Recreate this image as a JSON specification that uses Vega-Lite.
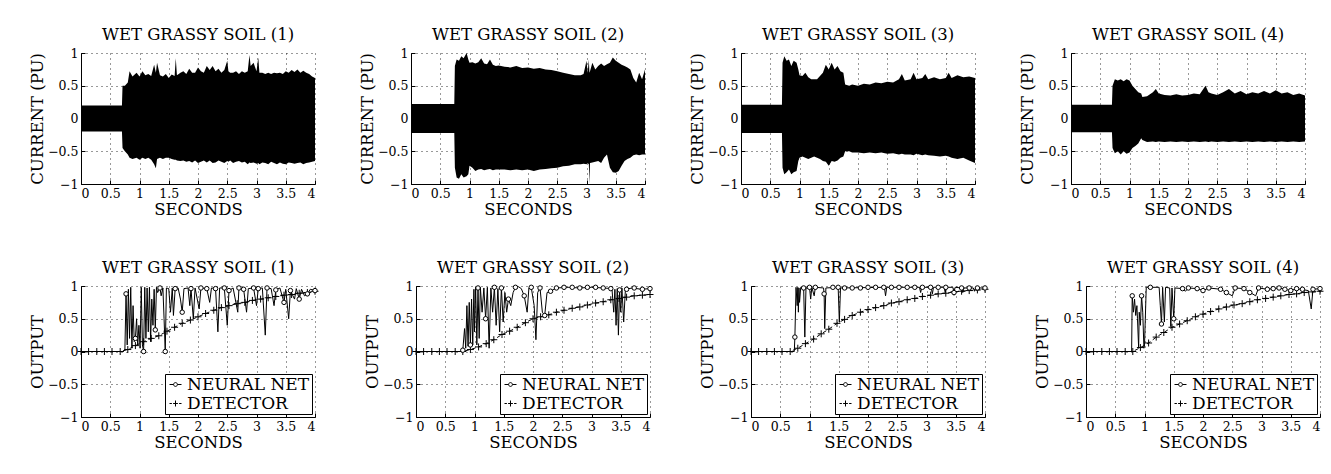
{
"$schema":"https://vega.github.io/schema/vega-lite/v6.json",
"padding":{"left":29,"top":26,"right":0,"bottom":0},
"background":"white",
"spacing":41,
"resolve":{"scale":{"shape":"independent"},"legend":{"shape":"independent"}},
"config":{
"font":"DejaVu Serif",
"view":{"stroke":null},
"style":{"guide-label":{"font":"DejaVu Serif","fill":"black"},"guide-title":{"font":"DejaVu Serif","fill":"black"}},
"axis":{"labelFont":"DejaVu Serif","titleFont":"DejaVu Serif","labelFontSize":12.5,"titleFontSize":16.5,"titleFontWeight":"normal","labelColor":"black","titleColor":"black","domainColor":"black","domainWidth":1,"tickColor":"black","tickSize":-4,"labelPadding":7,"titlePadding":2,"grid":true,"gridColor":"black","gridDash":[1,4],"gridOpacity":0.8,"gridWidth":1},
"title":{"font":"DejaVu Serif","fontSize":16.5,"fontWeight":"normal","color":"black","offset":4},
"legend":{"labelFont":"DejaVu Serif","labelFontSize":17,"labelColor":"black"}
},
"datasets":{
"cur":[
{"panel":1,"t":0,"hi":0.2,"lo":-0.2},{"panel":1,"t":0.7,"hi":0.2,"lo":-0.2},{"panel":1,"t":0.71,"hi":0.5,"lo":-0.45},{"panel":1,"t":0.75,"hi":0.5,"lo":-0.5},{"panel":1,"t":0.8,"hi":0.55,"lo":-0.55},{"panel":1,"t":0.83,"hi":0.72,"lo":-0.6},{"panel":1,"t":0.88,"hi":0.64,"lo":-0.62},{"panel":1,"t":0.95,"hi":0.7,"lo":-0.6},{"panel":1,"t":1.0,"hi":0.64,"lo":-0.63},{"panel":1,"t":1.05,"hi":0.72,"lo":-0.6},{"panel":1,"t":1.1,"hi":0.66,"lo":-0.62},{"panel":1,"t":1.15,"hi":0.68,"lo":-0.6},{"panel":1,"t":1.2,"hi":0.65,"lo":-0.63},{"panel":1,"t":1.25,"hi":0.82,"lo":-0.7},{"panel":1,"t":1.28,"hi":0.7,"lo":-0.76},{"panel":1,"t":1.3,"hi":0.85,"lo":-0.62},{"panel":1,"t":1.35,"hi":0.66,"lo":-0.6},{"panel":1,"t":1.4,"hi":0.64,"lo":-0.62},{"panel":1,"t":1.45,"hi":0.68,"lo":-0.6},{"panel":1,"t":1.5,"hi":0.62,"lo":-0.6},{"panel":1,"t":1.55,"hi":0.67,"lo":-0.62},{"panel":1,"t":1.6,"hi":0.65,"lo":-0.63},{"panel":1,"t":1.62,"hi":0.92,"lo":-0.63},{"panel":1,"t":1.64,"hi":0.66,"lo":-0.64},{"panel":1,"t":1.7,"hi":0.7,"lo":-0.65},{"panel":1,"t":1.75,"hi":0.72,"lo":-0.64},{"panel":1,"t":1.8,"hi":0.68,"lo":-0.66},{"panel":1,"t":1.85,"hi":0.76,"lo":-0.65},{"panel":1,"t":1.9,"hi":0.7,"lo":-0.67},{"panel":1,"t":1.95,"hi":0.7,"lo":-0.64},{"panel":1,"t":2.0,"hi":0.78,"lo":-0.68},{"panel":1,"t":2.05,"hi":0.72,"lo":-0.66},{"panel":1,"t":2.1,"hi":0.7,"lo":-0.64},{"panel":1,"t":2.15,"hi":0.8,"lo":-0.67},{"panel":1,"t":2.2,"hi":0.74,"lo":-0.64},{"panel":1,"t":2.25,"hi":0.8,"lo":-0.68},{"panel":1,"t":2.3,"hi":0.72,"lo":-0.67},{"panel":1,"t":2.35,"hi":0.76,"lo":-0.64},{"panel":1,"t":2.4,"hi":0.7,"lo":-0.66},{"panel":1,"t":2.45,"hi":0.74,"lo":-0.68},{"panel":1,"t":2.5,"hi":0.88,"lo":-0.65},{"panel":1,"t":2.52,"hi":0.72,"lo":-0.66},{"panel":1,"t":2.55,"hi":0.7,"lo":-0.64},{"panel":1,"t":2.6,"hi":0.7,"lo":-0.68},{"panel":1,"t":2.65,"hi":0.72,"lo":-0.66},{"panel":1,"t":2.7,"hi":0.68,"lo":-0.65},{"panel":1,"t":2.75,"hi":0.72,"lo":-0.67},{"panel":1,"t":2.8,"hi":0.7,"lo":-0.66},{"panel":1,"t":2.85,"hi":0.72,"lo":-0.7},{"panel":1,"t":2.88,"hi":0.97,"lo":-0.67},{"panel":1,"t":2.9,"hi":0.8,"lo":-0.68},{"panel":1,"t":2.95,"hi":0.85,"lo":-0.67},{"panel":1,"t":3.0,"hi":0.72,"lo":-0.69},{"panel":1,"t":3.03,"hi":0.93,"lo":-0.68},{"panel":1,"t":3.05,"hi":0.7,"lo":-0.7},{"panel":1,"t":3.1,"hi":0.7,"lo":-0.67},{"panel":1,"t":3.15,"hi":0.68,"lo":-0.68},{"panel":1,"t":3.2,"hi":0.7,"lo":-0.7},{"panel":1,"t":3.25,"hi":0.68,"lo":-0.66},{"panel":1,"t":3.3,"hi":0.7,"lo":-0.68},{"panel":1,"t":3.35,"hi":0.69,"lo":-0.7},{"panel":1,"t":3.4,"hi":0.7,"lo":-0.67},{"panel":1,"t":3.45,"hi":0.68,"lo":-0.69},{"panel":1,"t":3.5,"hi":0.72,"lo":-0.7},{"panel":1,"t":3.55,"hi":0.7,"lo":-0.67},{"panel":1,"t":3.6,"hi":0.74,"lo":-0.68},{"panel":1,"t":3.65,"hi":0.71,"lo":-0.69},{"panel":1,"t":3.7,"hi":0.75,"lo":-0.68},{"panel":1,"t":3.75,"hi":0.7,"lo":-0.67},{"panel":1,"t":3.8,"hi":0.73,"lo":-0.7},{"panel":1,"t":3.85,"hi":0.7,"lo":-0.68},{"panel":1,"t":3.9,"hi":0.68,"lo":-0.67},{"panel":1,"t":3.95,"hi":0.64,"lo":-0.66},{"panel":1,"t":4.0,"hi":0.62,"lo":-0.65},
{"panel":2,"t":0,"hi":0.22,"lo":-0.22},{"panel":2,"t":0.74,"hi":0.22,"lo":-0.22},{"panel":2,"t":0.75,"hi":0.8,"lo":-0.75},{"panel":2,"t":0.78,"hi":0.9,"lo":-0.9},{"panel":2,"t":0.82,"hi":0.88,"lo":-0.92},{"panel":2,"t":0.86,"hi":0.95,"lo":-0.85},{"panel":2,"t":0.9,"hi":0.92,"lo":-0.9},{"panel":2,"t":0.95,"hi":1.0,"lo":-0.88},{"panel":2,"t":0.98,"hi":0.9,"lo":-0.85},{"panel":2,"t":1.0,"hi":0.85,"lo":-0.72},{"panel":2,"t":1.05,"hi":0.86,"lo":-0.75},{"panel":2,"t":1.1,"hi":0.84,"lo":-0.8},{"panel":2,"t":1.15,"hi":0.86,"lo":-0.78},{"panel":2,"t":1.2,"hi":0.92,"lo":-0.77},{"panel":2,"t":1.25,"hi":0.84,"lo":-0.79},{"panel":2,"t":1.3,"hi":0.83,"lo":-0.78},{"panel":2,"t":1.35,"hi":0.9,"lo":-0.77},{"panel":2,"t":1.4,"hi":0.82,"lo":-0.79},{"panel":2,"t":1.45,"hi":0.8,"lo":-0.78},{"panel":2,"t":1.5,"hi":0.81,"lo":-0.78},{"panel":2,"t":1.6,"hi":0.79,"lo":-0.78},{"panel":2,"t":1.7,"hi":0.78,"lo":-0.79},{"panel":2,"t":1.8,"hi":0.8,"lo":-0.78},{"panel":2,"t":1.9,"hi":0.77,"lo":-0.79},{"panel":2,"t":2.0,"hi":0.78,"lo":-0.78},{"panel":2,"t":2.1,"hi":0.76,"lo":-0.8},{"panel":2,"t":2.2,"hi":0.77,"lo":-0.78},{"panel":2,"t":2.3,"hi":0.75,"lo":-0.77},{"panel":2,"t":2.4,"hi":0.74,"lo":-0.76},{"panel":2,"t":2.5,"hi":0.72,"lo":-0.75},{"panel":2,"t":2.6,"hi":0.7,"lo":-0.73},{"panel":2,"t":2.7,"hi":0.68,"lo":-0.72},{"panel":2,"t":2.8,"hi":0.66,"lo":-0.7},{"panel":2,"t":2.9,"hi":0.66,"lo":-0.7},{"panel":2,"t":2.95,"hi":0.68,"lo":-0.69},{"panel":2,"t":3.0,"hi":0.88,"lo":-0.7},{"panel":2,"t":3.02,"hi":0.7,"lo":-0.68},{"panel":2,"t":3.04,"hi":0.9,"lo":-0.7},{"panel":2,"t":3.05,"hi":0.7,"lo":-1.0},{"panel":2,"t":3.06,"hi":0.72,"lo":-0.68},{"panel":2,"t":3.1,"hi":0.85,"lo":-0.67},{"panel":2,"t":3.15,"hi":0.75,"lo":-0.66},{"panel":2,"t":3.2,"hi":0.8,"lo":-0.65},{"panel":2,"t":3.25,"hi":0.84,"lo":-0.68},{"panel":2,"t":3.3,"hi":0.8,"lo":-0.6},{"panel":2,"t":3.35,"hi":0.83,"lo":-0.55},{"panel":2,"t":3.4,"hi":0.85,"lo":-0.75},{"panel":2,"t":3.45,"hi":0.93,"lo":-0.82},{"panel":2,"t":3.5,"hi":0.88,"lo":-0.83},{"panel":2,"t":3.55,"hi":0.85,"lo":-0.8},{"panel":2,"t":3.6,"hi":0.82,"lo":-0.72},{"panel":2,"t":3.65,"hi":0.8,"lo":-0.65},{"panel":2,"t":3.7,"hi":0.78,"lo":-0.62},{"panel":2,"t":3.75,"hi":0.75,"lo":-0.6},{"panel":2,"t":3.8,"hi":0.62,"lo":-0.56},{"panel":2,"t":3.85,"hi":0.55,"lo":-0.55},{"panel":2,"t":3.9,"hi":0.7,"lo":-0.56},{"panel":2,"t":3.95,"hi":0.6,"lo":-0.55},{"panel":2,"t":4.0,"hi":0.75,"lo":-0.55},
{"panel":3,"t":0,"hi":0.21,"lo":-0.22},{"panel":3,"t":0.7,"hi":0.21,"lo":-0.22},{"panel":3,"t":0.71,"hi":0.85,"lo":-0.75},{"panel":3,"t":0.74,"hi":0.95,"lo":-0.85},{"panel":3,"t":0.78,"hi":0.88,"lo":-0.82},{"panel":3,"t":0.82,"hi":0.9,"lo":-0.78},{"panel":3,"t":0.86,"hi":0.8,"lo":-0.85},{"panel":3,"t":0.9,"hi":0.88,"lo":-0.82},{"panel":3,"t":0.95,"hi":0.85,"lo":-0.8},{"panel":3,"t":0.98,"hi":0.75,"lo":-0.65},{"panel":3,"t":1.0,"hi":0.66,"lo":-0.6},{"panel":3,"t":1.05,"hi":0.65,"lo":-0.58},{"panel":3,"t":1.1,"hi":0.7,"lo":-0.6},{"panel":3,"t":1.15,"hi":0.63,"lo":-0.62},{"panel":3,"t":1.2,"hi":0.6,"lo":-0.6},{"panel":3,"t":1.25,"hi":0.6,"lo":-0.58},{"panel":3,"t":1.3,"hi":0.6,"lo":-0.6},{"panel":3,"t":1.35,"hi":0.65,"lo":-0.62},{"panel":3,"t":1.4,"hi":0.7,"lo":-0.65},{"panel":3,"t":1.45,"hi":0.82,"lo":-0.66},{"panel":3,"t":1.5,"hi":0.75,"lo":-0.72},{"panel":3,"t":1.55,"hi":0.85,"lo":-0.65},{"panel":3,"t":1.6,"hi":0.75,"lo":-0.66},{"panel":3,"t":1.65,"hi":0.8,"lo":-0.64},{"panel":3,"t":1.7,"hi":0.72,"lo":-0.6},{"panel":3,"t":1.75,"hi":0.7,"lo":-0.58},{"panel":3,"t":1.78,"hi":0.52,"lo":-0.5},{"panel":3,"t":1.85,"hi":0.5,"lo":-0.5},{"panel":3,"t":1.9,"hi":0.52,"lo":-0.52},{"panel":3,"t":2.0,"hi":0.5,"lo":-0.52},{"panel":3,"t":2.1,"hi":0.53,"lo":-0.53},{"panel":3,"t":2.2,"hi":0.52,"lo":-0.52},{"panel":3,"t":2.3,"hi":0.55,"lo":-0.53},{"panel":3,"t":2.4,"hi":0.54,"lo":-0.52},{"panel":3,"t":2.5,"hi":0.56,"lo":-0.54},{"panel":3,"t":2.6,"hi":0.55,"lo":-0.53},{"panel":3,"t":2.7,"hi":0.6,"lo":-0.55},{"panel":3,"t":2.75,"hi":0.68,"lo":-0.54},{"panel":3,"t":2.8,"hi":0.58,"lo":-0.55},{"panel":3,"t":2.9,"hi":0.6,"lo":-0.55},{"panel":3,"t":2.95,"hi":0.7,"lo":-0.56},{"panel":3,"t":3.0,"hi":0.6,"lo":-0.54},{"panel":3,"t":3.1,"hi":0.62,"lo":-0.56},{"panel":3,"t":3.15,"hi":0.68,"lo":-0.55},{"panel":3,"t":3.2,"hi":0.6,"lo":-0.56},{"panel":3,"t":3.3,"hi":0.63,"lo":-0.57},{"panel":3,"t":3.4,"hi":0.6,"lo":-0.58},{"panel":3,"t":3.5,"hi":0.62,"lo":-0.57},{"panel":3,"t":3.55,"hi":0.7,"lo":-0.58},{"panel":3,"t":3.6,"hi":0.62,"lo":-0.6},{"panel":3,"t":3.7,"hi":0.66,"lo":-0.62},{"panel":3,"t":3.8,"hi":0.63,"lo":-0.6},{"panel":3,"t":3.9,"hi":0.64,"lo":-0.64},{"panel":3,"t":4.0,"hi":0.62,"lo":-0.68},
{"panel":4,"t":0,"hi":0.21,"lo":-0.21},{"panel":4,"t":0.7,"hi":0.21,"lo":-0.21},{"panel":4,"t":0.71,"hi":0.5,"lo":-0.45},{"panel":4,"t":0.75,"hi":0.6,"lo":-0.53},{"panel":4,"t":0.8,"hi":0.58,"lo":-0.5},{"panel":4,"t":0.85,"hi":0.6,"lo":-0.55},{"panel":4,"t":0.9,"hi":0.57,"lo":-0.5},{"panel":4,"t":0.95,"hi":0.6,"lo":-0.54},{"panel":4,"t":1.0,"hi":0.58,"lo":-0.52},{"panel":4,"t":1.05,"hi":0.5,"lo":-0.45},{"panel":4,"t":1.1,"hi":0.45,"lo":-0.42},{"panel":4,"t":1.15,"hi":0.4,"lo":-0.38},{"panel":4,"t":1.2,"hi":0.38,"lo":-0.3},{"panel":4,"t":1.22,"hi":0.33,"lo":-0.33},{"panel":4,"t":1.3,"hi":0.34,"lo":-0.36},{"panel":4,"t":1.4,"hi":0.4,"lo":-0.35},{"panel":4,"t":1.45,"hi":0.45,"lo":-0.36},{"panel":4,"t":1.5,"hi":0.38,"lo":-0.35},{"panel":4,"t":1.6,"hi":0.36,"lo":-0.36},{"panel":4,"t":1.7,"hi":0.35,"lo":-0.35},{"panel":4,"t":1.8,"hi":0.37,"lo":-0.36},{"panel":4,"t":1.9,"hi":0.35,"lo":-0.35},{"panel":4,"t":2.0,"hi":0.36,"lo":-0.36},{"panel":4,"t":2.1,"hi":0.38,"lo":-0.35},{"panel":4,"t":2.2,"hi":0.37,"lo":-0.36},{"panel":4,"t":2.3,"hi":0.5,"lo":-0.35},{"panel":4,"t":2.35,"hi":0.4,"lo":-0.36},{"panel":4,"t":2.4,"hi":0.38,"lo":-0.35},{"panel":4,"t":2.5,"hi":0.36,"lo":-0.36},{"panel":4,"t":2.6,"hi":0.4,"lo":-0.35},{"panel":4,"t":2.7,"hi":0.45,"lo":-0.36},{"panel":4,"t":2.8,"hi":0.38,"lo":-0.35},{"panel":4,"t":2.9,"hi":0.42,"lo":-0.36},{"panel":4,"t":3.0,"hi":0.37,"lo":-0.35},{"panel":4,"t":3.1,"hi":0.4,"lo":-0.36},{"panel":4,"t":3.2,"hi":0.38,"lo":-0.35},{"panel":4,"t":3.3,"hi":0.42,"lo":-0.36},{"panel":4,"t":3.4,"hi":0.38,"lo":-0.35},{"panel":4,"t":3.5,"hi":0.43,"lo":-0.36},{"panel":4,"t":3.6,"hi":0.38,"lo":-0.35},{"panel":4,"t":3.7,"hi":0.4,"lo":-0.36},{"panel":4,"t":3.8,"hi":0.36,"lo":-0.35},{"panel":4,"t":3.9,"hi":0.38,"lo":-0.36},{"panel":4,"t":4.0,"hi":0.35,"lo":-0.35}
],
"nn":[
{"panel":1,"t":0,"v":0},{"panel":1,"t":0.72,"v":0},{"panel":1,"t":0.75,"v":0.02},{"panel":1,"t":0.77,"v":0.88},{"panel":1,"t":0.79,"v":0.1},{"panel":1,"t":0.81,"v":0.95},{"panel":1,"t":0.83,"v":0.2},{"panel":1,"t":0.85,"v":0.98},{"panel":1,"t":0.87,"v":0.05},{"panel":1,"t":0.89,"v":0.7},{"panel":1,"t":0.91,"v":0.15},{"panel":1,"t":0.93,"v":0.2},{"panel":1,"t":0.95,"v":0.5},{"panel":1,"t":0.97,"v":0.1},{"panel":1,"t":0.99,"v":0.4},{"panel":1,"t":1.01,"v":0.05},{"panel":1,"t":1.03,"v":0.98},{"panel":1,"t":1.05,"v":0.1},{"panel":1,"t":1.07,"v":0.0},{"panel":1,"t":1.09,"v":0.98},{"panel":1,"t":1.11,"v":0.2},{"panel":1,"t":1.13,"v":0.97},{"panel":1,"t":1.15,"v":0.3},{"panel":1,"t":1.17,"v":0.98},{"panel":1,"t":1.19,"v":0.15},{"panel":1,"t":1.21,"v":0.8},{"panel":1,"t":1.23,"v":0.4},{"panel":1,"t":1.25,"v":0.95},{"panel":1,"t":1.27,"v":0.33},{"panel":1,"t":1.29,"v":0.98},{"panel":1,"t":1.31,"v":0.9},{"panel":1,"t":1.35,"v":0.97},{"panel":1,"t":1.37,"v":0.85},{"panel":1,"t":1.4,"v":0.97},{"panel":1,"t":1.42,"v":0.5},{"panel":1,"t":1.44,"v":0.0},{"panel":1,"t":1.46,"v":0.97},{"panel":1,"t":1.5,"v":0.96},{"panel":1,"t":1.53,"v":0.6},{"panel":1,"t":1.56,"v":0.97},{"panel":1,"t":1.58,"v":0.55},{"panel":1,"t":1.61,"v":0.96},{"panel":1,"t":1.66,"v":0.97},{"panel":1,"t":1.7,"v":0.8},{"panel":1,"t":1.73,"v":0.6},{"panel":1,"t":1.76,"v":0.96},{"panel":1,"t":1.83,"v":0.97},{"panel":1,"t":1.86,"v":0.7},{"panel":1,"t":1.88,"v":0.96},{"panel":1,"t":1.92,"v":0.5},{"panel":1,"t":1.95,"v":0.97},{"panel":1,"t":2.02,"v":0.65},{"panel":1,"t":2.05,"v":0.97},{"panel":1,"t":2.15,"v":0.96},{"panel":1,"t":2.2,"v":0.75},{"panel":1,"t":2.23,"v":0.97},{"panel":1,"t":2.3,"v":0.96},{"panel":1,"t":2.34,"v":0.3},{"panel":1,"t":2.37,"v":0.97},{"panel":1,"t":2.45,"v":0.97},{"panel":1,"t":2.5,"v":0.4},{"panel":1,"t":2.53,"v":0.93},{"panel":1,"t":2.6,"v":0.97},{"panel":1,"t":2.68,"v":0.6},{"panel":1,"t":2.7,"v":0.97},{"panel":1,"t":2.78,"v":0.95},{"panel":1,"t":2.83,"v":0.6},{"panel":1,"t":2.86,"v":0.96},{"panel":1,"t":2.95,"v":0.97},{"panel":1,"t":3.0,"v":0.7},{"panel":1,"t":3.03,"v":0.96},{"panel":1,"t":3.1,"v":0.97},{"panel":1,"t":3.15,"v":0.25},{"panel":1,"t":3.18,"v":0.97},{"panel":1,"t":3.25,"v":0.96},{"panel":1,"t":3.3,"v":0.7},{"panel":1,"t":3.33,"v":0.94},{"panel":1,"t":3.4,"v":0.97},{"panel":1,"t":3.47,"v":0.75},{"panel":1,"t":3.5,"v":0.95},{"panel":1,"t":3.55,"v":0.5},{"panel":1,"t":3.58,"v":0.93},{"panel":1,"t":3.65,"v":0.8},{"panel":1,"t":3.68,"v":0.96},{"panel":1,"t":3.73,"v":0.8},{"panel":1,"t":3.77,"v":0.95},{"panel":1,"t":3.82,"v":0.85},{"panel":1,"t":3.87,"v":0.88},{"panel":1,"t":3.92,"v":0.95},{"panel":1,"t":4.0,"v":0.93},
{"panel":2,"t":0,"v":0},{"panel":2,"t":0.75,"v":0},{"panel":2,"t":0.8,"v":0.02},{"panel":2,"t":0.83,"v":0.35},{"panel":2,"t":0.85,"v":0.05},{"panel":2,"t":0.87,"v":0.7},{"panel":2,"t":0.89,"v":0.08},{"panel":2,"t":0.91,"v":0.75},{"panel":2,"t":0.93,"v":0.1},{"panel":2,"t":0.95,"v":0.8},{"panel":2,"t":0.97,"v":0.1},{"panel":2,"t":0.99,"v":0.95},{"panel":2,"t":1.0,"v":0.3},{"panel":2,"t":1.02,"v":0.98},{"panel":2,"t":1.04,"v":0.1},{"panel":2,"t":1.06,"v":0.97},{"panel":2,"t":1.08,"v":0.2},{"panel":2,"t":1.1,"v":0.98},{"panel":2,"t":1.13,"v":0.6},{"panel":2,"t":1.16,"v":0.97},{"panel":2,"t":1.19,"v":0.5},{"panel":2,"t":1.22,"v":0.98},{"panel":2,"t":1.25,"v":0.05},{"panel":2,"t":1.28,"v":0.97},{"panel":2,"t":1.31,"v":0.6},{"panel":2,"t":1.34,"v":0.98},{"panel":2,"t":1.37,"v":0.4},{"panel":2,"t":1.4,"v":0.96},{"panel":2,"t":1.43,"v":0.3},{"panel":2,"t":1.46,"v":0.97},{"panel":2,"t":1.49,"v":0.45},{"panel":2,"t":1.52,"v":0.9},{"panel":2,"t":1.55,"v":0.6},{"panel":2,"t":1.58,"v":0.8},{"panel":2,"t":1.62,"v":0.7},{"panel":2,"t":1.66,"v":0.9},{"panel":2,"t":1.7,"v":0.98},{"panel":2,"t":1.75,"v":0.99},{"panel":2,"t":1.8,"v":0.96},{"panel":2,"t":1.85,"v":0.85},{"panel":2,"t":1.9,"v":0.6},{"panel":2,"t":1.93,"v":0.97},{"panel":2,"t":1.97,"v":0.98},{"panel":2,"t":2.02,"v":0.7},{"panel":2,"t":2.05,"v":0.18},{"panel":2,"t":2.08,"v":0.9},{"panel":2,"t":2.12,"v":0.97},{"panel":2,"t":2.16,"v":0.6},{"panel":2,"t":2.2,"v":0.55},{"panel":2,"t":2.24,"v":0.9},{"panel":2,"t":2.3,"v":0.92},{"panel":2,"t":2.4,"v":0.97},{"panel":2,"t":2.6,"v":0.98},{"panel":2,"t":2.8,"v":0.97},{"panel":2,"t":3.0,"v":0.98},{"panel":2,"t":3.2,"v":0.97},{"panel":2,"t":3.35,"v":0.96},{"panel":2,"t":3.38,"v":0.6},{"panel":2,"t":3.4,"v":0.95},{"panel":2,"t":3.42,"v":0.4},{"panel":2,"t":3.44,"v":0.96},{"panel":2,"t":3.46,"v":0.25},{"panel":2,"t":3.48,"v":0.94},{"panel":2,"t":3.5,"v":0.6},{"panel":2,"t":3.52,"v":0.97},{"panel":2,"t":3.55,"v":0.45},{"panel":2,"t":3.58,"v":0.95},{"panel":2,"t":3.7,"v":0.97},{"panel":2,"t":3.85,"v":0.95},{"panel":2,"t":4.0,"v":0.96},
{"panel":3,"t":0,"v":0},{"panel":3,"t":0.74,"v":0},{"panel":3,"t":0.75,"v":0.22},{"panel":3,"t":0.77,"v":0.98},{"panel":3,"t":0.79,"v":0.7},{"panel":3,"t":0.8,"v":0.98},{"panel":3,"t":0.81,"v":0.6},{"panel":3,"t":0.82,"v":0.97},{"panel":3,"t":0.83,"v":0.75},{"panel":3,"t":0.85,"v":0.98},{"panel":3,"t":0.9,"v":0.97},{"panel":3,"t":0.92,"v":0.22},{"panel":3,"t":0.94,"v":0.97},{"panel":3,"t":1.0,"v":0.98},{"panel":3,"t":1.02,"v":0.8},{"panel":3,"t":1.04,"v":0.98},{"panel":3,"t":1.08,"v":0.85},{"panel":3,"t":1.1,"v":0.98},{"panel":3,"t":1.24,"v":0.97},{"panel":3,"t":1.25,"v":0.88},{"panel":3,"t":1.26,"v":0.35},{"panel":3,"t":1.28,"v":0.97},{"panel":3,"t":1.49,"v":0.98},{"panel":3,"t":1.51,"v":0.45},{"panel":3,"t":1.53,"v":0.97},{"panel":3,"t":2.28,"v":0.98},{"panel":3,"t":2.3,"v":0.85},{"panel":3,"t":2.32,"v":0.98},{"panel":3,"t":2.88,"v":0.98},{"panel":3,"t":2.9,"v":0.9},{"panel":3,"t":2.92,"v":0.98},{"panel":3,"t":3.08,"v":0.98},{"panel":3,"t":3.1,"v":0.88},{"panel":3,"t":3.12,"v":0.98},{"panel":3,"t":3.3,"v":0.98},{"panel":3,"t":3.32,"v":0.9},{"panel":3,"t":3.34,"v":0.98},{"panel":3,"t":3.45,"v":0.98},{"panel":3,"t":3.47,"v":0.9},{"panel":3,"t":3.49,"v":0.98},{"panel":3,"t":3.6,"v":0.97},{"panel":3,"t":3.62,"v":0.9},{"panel":3,"t":3.64,"v":0.97},{"panel":3,"t":3.8,"v":0.97},{"panel":3,"t":3.82,"v":0.92},{"panel":3,"t":3.84,"v":0.97},{"panel":3,"t":4.0,"v":0.97},
{"panel":4,"t":0,"v":0},{"panel":4,"t":0.78,"v":0},{"panel":4,"t":0.79,"v":0.85},{"panel":4,"t":0.81,"v":0.6},{"panel":4,"t":0.83,"v":0.8},{"panel":4,"t":0.85,"v":0.55},{"panel":4,"t":0.87,"v":0.7},{"panel":4,"t":0.88,"v":0.5},{"panel":4,"t":0.9,"v":0.05},{"panel":4,"t":0.91,"v":0.6},{"panel":4,"t":0.93,"v":0.4},{"panel":4,"t":0.95,"v":0.85},{"panel":4,"t":0.97,"v":0.6},{"panel":4,"t":0.99,"v":0.05},{"panel":4,"t":1.0,"v":0.1},{"panel":4,"t":1.03,"v":0.98},{"panel":4,"t":1.25,"v":0.98},{"panel":4,"t":1.27,"v":0.7},{"panel":4,"t":1.29,"v":0.42},{"panel":4,"t":1.31,"v":0.98},{"panel":4,"t":1.34,"v":0.45},{"panel":4,"t":1.36,"v":0.98},{"panel":4,"t":1.43,"v":0.97},{"panel":4,"t":1.45,"v":0.38},{"panel":4,"t":1.47,"v":0.97},{"panel":4,"t":1.5,"v":0.5},{"panel":4,"t":1.52,"v":0.97},{"panel":4,"t":1.65,"v":0.96},{"panel":4,"t":1.7,"v":0.92},{"panel":4,"t":1.75,"v":0.97},{"panel":4,"t":1.9,"v":0.96},{"panel":4,"t":2.0,"v":0.93},{"panel":4,"t":2.1,"v":0.97},{"panel":4,"t":2.3,"v":0.95},{"panel":4,"t":2.5,"v":0.85},{"panel":4,"t":2.55,"v":0.97},{"panel":4,"t":2.7,"v":0.96},{"panel":4,"t":2.9,"v":0.85},{"panel":4,"t":2.95,"v":0.97},{"panel":4,"t":3.1,"v":0.95},{"panel":4,"t":3.3,"v":0.97},{"panel":4,"t":3.5,"v":0.93},{"panel":4,"t":3.6,"v":0.96},{"panel":4,"t":3.8,"v":0.93},{"panel":4,"t":3.85,"v":0.65},{"panel":4,"t":3.88,"v":0.95},{"panel":4,"t":4.0,"v":0.96}
],
"mk":[
{"panel":1,"series":"DETECTOR","t":0,"v":0},{"panel":1,"series":"DETECTOR","t":0.13,"v":0},{"panel":1,"series":"DETECTOR","t":0.27,"v":0},{"panel":1,"series":"DETECTOR","t":0.4,"v":0},{"panel":1,"series":"DETECTOR","t":0.53,"v":0},{"panel":1,"series":"DETECTOR","t":0.67,"v":0},{"panel":1,"series":"DETECTOR","t":0.8,"v":0.03},{"panel":1,"series":"DETECTOR","t":0.93,"v":0.09},{"panel":1,"series":"DETECTOR","t":1.07,"v":0.15},{"panel":1,"series":"DETECTOR","t":1.2,"v":0.2},{"panel":1,"series":"DETECTOR","t":1.33,"v":0.24},{"panel":1,"series":"DETECTOR","t":1.47,"v":0.31},{"panel":1,"series":"DETECTOR","t":1.6,"v":0.37},{"panel":1,"series":"DETECTOR","t":1.73,"v":0.43},{"panel":1,"series":"DETECTOR","t":1.87,"v":0.48},{"panel":1,"series":"DETECTOR","t":2.0,"v":0.53},{"panel":1,"series":"DETECTOR","t":2.13,"v":0.58},{"panel":1,"series":"DETECTOR","t":2.27,"v":0.63},{"panel":1,"series":"DETECTOR","t":2.4,"v":0.67},{"panel":1,"series":"DETECTOR","t":2.53,"v":0.7},{"panel":1,"series":"DETECTOR","t":2.67,"v":0.73},{"panel":1,"series":"DETECTOR","t":2.8,"v":0.75},{"panel":1,"series":"DETECTOR","t":2.93,"v":0.78},{"panel":1,"series":"DETECTOR","t":3.07,"v":0.8},{"panel":1,"series":"DETECTOR","t":3.2,"v":0.82},{"panel":1,"series":"DETECTOR","t":3.33,"v":0.84},{"panel":1,"series":"DETECTOR","t":3.47,"v":0.86},{"panel":1,"series":"DETECTOR","t":3.6,"v":0.87},{"panel":1,"series":"DETECTOR","t":3.73,"v":0.89},{"panel":1,"series":"DETECTOR","t":3.87,"v":0.9},{"panel":1,"series":"DETECTOR","t":4.0,"v":0.92},
{"panel":1,"series":"NEURAL NET","t":0.77,"v":0.88},{"panel":1,"series":"NEURAL NET","t":0.93,"v":0.2},{"panel":1,"series":"NEURAL NET","t":1.07,"v":0.0},{"panel":1,"series":"NEURAL NET","t":1.27,"v":0.33},{"panel":1,"series":"NEURAL NET","t":1.35,"v":0.97},{"panel":1,"series":"NEURAL NET","t":1.44,"v":0.0},{"panel":1,"series":"NEURAL NET","t":1.61,"v":0.96},{"panel":1,"series":"NEURAL NET","t":1.73,"v":0.6},{"panel":1,"series":"NEURAL NET","t":1.88,"v":0.96},{"panel":1,"series":"NEURAL NET","t":2.05,"v":0.97},{"panel":1,"series":"NEURAL NET","t":2.15,"v":0.96},{"panel":1,"series":"NEURAL NET","t":2.3,"v":0.96},{"panel":1,"series":"NEURAL NET","t":2.45,"v":0.97},{"panel":1,"series":"NEURAL NET","t":2.53,"v":0.93},{"panel":1,"series":"NEURAL NET","t":2.7,"v":0.97},{"panel":1,"series":"NEURAL NET","t":2.78,"v":0.95},{"panel":1,"series":"NEURAL NET","t":2.95,"v":0.97},{"panel":1,"series":"NEURAL NET","t":3.03,"v":0.96},{"panel":1,"series":"NEURAL NET","t":3.18,"v":0.97},{"panel":1,"series":"NEURAL NET","t":3.33,"v":0.94},{"panel":1,"series":"NEURAL NET","t":3.47,"v":0.75},{"panel":1,"series":"NEURAL NET","t":3.58,"v":0.93},{"panel":1,"series":"NEURAL NET","t":3.73,"v":0.8},{"panel":1,"series":"NEURAL NET","t":3.87,"v":0.88},{"panel":1,"series":"NEURAL NET","t":4.0,"v":0.93},
{"panel":2,"series":"DETECTOR","t":0,"v":0},{"panel":2,"series":"DETECTOR","t":0.13,"v":0},{"panel":2,"series":"DETECTOR","t":0.27,"v":0},{"panel":2,"series":"DETECTOR","t":0.4,"v":0},{"panel":2,"series":"DETECTOR","t":0.53,"v":0},{"panel":2,"series":"DETECTOR","t":0.67,"v":0},{"panel":2,"series":"DETECTOR","t":0.8,"v":0.0},{"panel":2,"series":"DETECTOR","t":0.93,"v":0.03},{"panel":2,"series":"DETECTOR","t":1.07,"v":0.07},{"panel":2,"series":"DETECTOR","t":1.2,"v":0.12},{"panel":2,"series":"DETECTOR","t":1.33,"v":0.18},{"panel":2,"series":"DETECTOR","t":1.47,"v":0.26},{"panel":2,"series":"DETECTOR","t":1.6,"v":0.31},{"panel":2,"series":"DETECTOR","t":1.73,"v":0.37},{"panel":2,"series":"DETECTOR","t":1.87,"v":0.44},{"panel":2,"series":"DETECTOR","t":2.0,"v":0.5},{"panel":2,"series":"DETECTOR","t":2.13,"v":0.53},{"panel":2,"series":"DETECTOR","t":2.27,"v":0.56},{"panel":2,"series":"DETECTOR","t":2.4,"v":0.6},{"panel":2,"series":"DETECTOR","t":2.53,"v":0.63},{"panel":2,"series":"DETECTOR","t":2.67,"v":0.66},{"panel":2,"series":"DETECTOR","t":2.8,"v":0.68},{"panel":2,"series":"DETECTOR","t":2.93,"v":0.71},{"panel":2,"series":"DETECTOR","t":3.07,"v":0.74},{"panel":2,"series":"DETECTOR","t":3.2,"v":0.76},{"panel":2,"series":"DETECTOR","t":3.33,"v":0.79},{"panel":2,"series":"DETECTOR","t":3.47,"v":0.81},{"panel":2,"series":"DETECTOR","t":3.6,"v":0.83},{"panel":2,"series":"DETECTOR","t":3.73,"v":0.85},{"panel":2,"series":"DETECTOR","t":3.87,"v":0.86},{"panel":2,"series":"DETECTOR","t":4.0,"v":0.87},
{"panel":2,"series":"NEURAL NET","t":0.8,"v":0.02},{"panel":2,"series":"NEURAL NET","t":0.93,"v":0.1},{"panel":2,"series":"NEURAL NET","t":1.06,"v":0.97},{"panel":2,"series":"NEURAL NET","t":1.19,"v":0.5},{"panel":2,"series":"NEURAL NET","t":1.34,"v":0.98},{"panel":2,"series":"NEURAL NET","t":1.46,"v":0.97},{"panel":2,"series":"NEURAL NET","t":1.58,"v":0.8},{"panel":2,"series":"NEURAL NET","t":1.7,"v":0.98},{"panel":2,"series":"NEURAL NET","t":1.85,"v":0.85},{"panel":2,"series":"NEURAL NET","t":1.97,"v":0.98},{"panel":2,"series":"NEURAL NET","t":2.12,"v":0.97},{"panel":2,"series":"NEURAL NET","t":2.2,"v":0.55},{"panel":2,"series":"NEURAL NET","t":2.3,"v":0.92},{"panel":2,"series":"NEURAL NET","t":2.4,"v":0.97},{"panel":2,"series":"NEURAL NET","t":2.53,"v":0.98},{"panel":2,"series":"NEURAL NET","t":2.67,"v":0.98},{"panel":2,"series":"NEURAL NET","t":2.8,"v":0.97},{"panel":2,"series":"NEURAL NET","t":2.93,"v":0.98},{"panel":2,"series":"NEURAL NET","t":3.07,"v":0.98},{"panel":2,"series":"NEURAL NET","t":3.2,"v":0.97},{"panel":2,"series":"NEURAL NET","t":3.33,"v":0.96},{"panel":2,"series":"NEURAL NET","t":3.48,"v":0.94},{"panel":2,"series":"NEURAL NET","t":3.6,"v":0.95},{"panel":2,"series":"NEURAL NET","t":3.73,"v":0.97},{"panel":2,"series":"NEURAL NET","t":3.87,"v":0.95},{"panel":2,"series":"NEURAL NET","t":4.0,"v":0.96},
{"panel":3,"series":"DETECTOR","t":0,"v":0},{"panel":3,"series":"DETECTOR","t":0.13,"v":0},{"panel":3,"series":"DETECTOR","t":0.27,"v":0},{"panel":3,"series":"DETECTOR","t":0.4,"v":0},{"panel":3,"series":"DETECTOR","t":0.53,"v":0},{"panel":3,"series":"DETECTOR","t":0.67,"v":0},{"panel":3,"series":"DETECTOR","t":0.8,"v":0.05},{"panel":3,"series":"DETECTOR","t":0.93,"v":0.12},{"panel":3,"series":"DETECTOR","t":1.07,"v":0.19},{"panel":3,"series":"DETECTOR","t":1.2,"v":0.27},{"panel":3,"series":"DETECTOR","t":1.33,"v":0.34},{"panel":3,"series":"DETECTOR","t":1.47,"v":0.43},{"panel":3,"series":"DETECTOR","t":1.6,"v":0.49},{"panel":3,"series":"DETECTOR","t":1.73,"v":0.55},{"panel":3,"series":"DETECTOR","t":1.87,"v":0.6},{"panel":3,"series":"DETECTOR","t":2.0,"v":0.64},{"panel":3,"series":"DETECTOR","t":2.13,"v":0.67},{"panel":3,"series":"DETECTOR","t":2.27,"v":0.7},{"panel":3,"series":"DETECTOR","t":2.4,"v":0.74},{"panel":3,"series":"DETECTOR","t":2.53,"v":0.76},{"panel":3,"series":"DETECTOR","t":2.67,"v":0.79},{"panel":3,"series":"DETECTOR","t":2.8,"v":0.81},{"panel":3,"series":"DETECTOR","t":2.93,"v":0.84},{"panel":3,"series":"DETECTOR","t":3.07,"v":0.86},{"panel":3,"series":"DETECTOR","t":3.2,"v":0.88},{"panel":3,"series":"DETECTOR","t":3.33,"v":0.89},{"panel":3,"series":"DETECTOR","t":3.47,"v":0.91},{"panel":3,"series":"DETECTOR","t":3.6,"v":0.92},{"panel":3,"series":"DETECTOR","t":3.73,"v":0.93},{"panel":3,"series":"DETECTOR","t":3.87,"v":0.94},{"panel":3,"series":"DETECTOR","t":4.0,"v":0.95},
{"panel":3,"series":"NEURAL NET","t":0.75,"v":0.22},{"panel":3,"series":"NEURAL NET","t":0.9,"v":0.97},{"panel":3,"series":"NEURAL NET","t":1.0,"v":0.98},{"panel":3,"series":"NEURAL NET","t":1.1,"v":0.98},{"panel":3,"series":"NEURAL NET","t":1.25,"v":0.88},{"panel":3,"series":"NEURAL NET","t":1.4,"v":0.98},{"panel":3,"series":"NEURAL NET","t":1.49,"v":0.98},{"panel":3,"series":"NEURAL NET","t":1.6,"v":0.97},{"panel":3,"series":"NEURAL NET","t":1.73,"v":0.97},{"panel":3,"series":"NEURAL NET","t":1.87,"v":0.97},{"panel":3,"series":"NEURAL NET","t":2.0,"v":0.98},{"panel":3,"series":"NEURAL NET","t":2.13,"v":0.98},{"panel":3,"series":"NEURAL NET","t":2.27,"v":0.98},{"panel":3,"series":"NEURAL NET","t":2.4,"v":0.98},{"panel":3,"series":"NEURAL NET","t":2.53,"v":0.98},{"panel":3,"series":"NEURAL NET","t":2.67,"v":0.98},{"panel":3,"series":"NEURAL NET","t":2.8,"v":0.98},{"panel":3,"series":"NEURAL NET","t":2.93,"v":0.98},{"panel":3,"series":"NEURAL NET","t":3.07,"v":0.98},{"panel":3,"series":"NEURAL NET","t":3.2,"v":0.98},{"panel":3,"series":"NEURAL NET","t":3.33,"v":0.98},{"panel":3,"series":"NEURAL NET","t":3.47,"v":0.9},{"panel":3,"series":"NEURAL NET","t":3.6,"v":0.97},{"panel":3,"series":"NEURAL NET","t":3.73,"v":0.97},{"panel":3,"series":"NEURAL NET","t":3.87,"v":0.97},{"panel":3,"series":"NEURAL NET","t":4.0,"v":0.97},
{"panel":4,"series":"DETECTOR","t":0,"v":0},{"panel":4,"series":"DETECTOR","t":0.13,"v":0},{"panel":4,"series":"DETECTOR","t":0.27,"v":0},{"panel":4,"series":"DETECTOR","t":0.4,"v":0},{"panel":4,"series":"DETECTOR","t":0.53,"v":0},{"panel":4,"series":"DETECTOR","t":0.67,"v":0},{"panel":4,"series":"DETECTOR","t":0.8,"v":0},{"panel":4,"series":"DETECTOR","t":0.93,"v":0.06},{"panel":4,"series":"DETECTOR","t":1.07,"v":0.13},{"panel":4,"series":"DETECTOR","t":1.2,"v":0.22},{"panel":4,"series":"DETECTOR","t":1.33,"v":0.29},{"panel":4,"series":"DETECTOR","t":1.47,"v":0.37},{"panel":4,"series":"DETECTOR","t":1.6,"v":0.42},{"panel":4,"series":"DETECTOR","t":1.73,"v":0.47},{"panel":4,"series":"DETECTOR","t":1.87,"v":0.53},{"panel":4,"series":"DETECTOR","t":2.0,"v":0.57},{"panel":4,"series":"DETECTOR","t":2.13,"v":0.61},{"panel":4,"series":"DETECTOR","t":2.27,"v":0.65},{"panel":4,"series":"DETECTOR","t":2.4,"v":0.68},{"panel":4,"series":"DETECTOR","t":2.53,"v":0.71},{"panel":4,"series":"DETECTOR","t":2.67,"v":0.73},{"panel":4,"series":"DETECTOR","t":2.8,"v":0.76},{"panel":4,"series":"DETECTOR","t":2.93,"v":0.79},{"panel":4,"series":"DETECTOR","t":3.07,"v":0.81},{"panel":4,"series":"DETECTOR","t":3.2,"v":0.83},{"panel":4,"series":"DETECTOR","t":3.33,"v":0.85},{"panel":4,"series":"DETECTOR","t":3.47,"v":0.87},{"panel":4,"series":"DETECTOR","t":3.6,"v":0.88},{"panel":4,"series":"DETECTOR","t":3.73,"v":0.9},{"panel":4,"series":"DETECTOR","t":3.87,"v":0.91},{"panel":4,"series":"DETECTOR","t":4.0,"v":0.92},
{"panel":4,"series":"NEURAL NET","t":0.79,"v":0.85},{"panel":4,"series":"NEURAL NET","t":0.95,"v":0.85},{"panel":4,"series":"NEURAL NET","t":1.1,"v":0.98},{"panel":4,"series":"NEURAL NET","t":1.29,"v":0.42},{"panel":4,"series":"NEURAL NET","t":1.5,"v":0.5},{"panel":4,"series":"NEURAL NET","t":1.65,"v":0.96},{"panel":4,"series":"NEURAL NET","t":1.75,"v":0.97},{"panel":4,"series":"NEURAL NET","t":1.9,"v":0.96},{"panel":4,"series":"NEURAL NET","t":2.0,"v":0.93},{"panel":4,"series":"NEURAL NET","t":2.1,"v":0.97},{"panel":4,"series":"NEURAL NET","t":2.3,"v":0.95},{"panel":4,"series":"NEURAL NET","t":2.4,"v":0.9},{"panel":4,"series":"NEURAL NET","t":2.55,"v":0.97},{"panel":4,"series":"NEURAL NET","t":2.7,"v":0.96},{"panel":4,"series":"NEURAL NET","t":2.8,"v":0.9},{"panel":4,"series":"NEURAL NET","t":2.95,"v":0.97},{"panel":4,"series":"NEURAL NET","t":3.1,"v":0.95},{"panel":4,"series":"NEURAL NET","t":3.2,"v":0.96},{"panel":4,"series":"NEURAL NET","t":3.3,"v":0.97},{"panel":4,"series":"NEURAL NET","t":3.4,"v":0.95},{"panel":4,"series":"NEURAL NET","t":3.5,"v":0.93},{"panel":4,"series":"NEURAL NET","t":3.6,"v":0.96},{"panel":4,"series":"NEURAL NET","t":3.7,"v":0.95},{"panel":4,"series":"NEURAL NET","t":3.88,"v":0.95},{"panel":4,"series":"NEURAL NET","t":4.0,"v":0.96}
]
},
"vconcat":[
{"hconcat":[
{"width":234,"height":131,"title":"WET GRASSY SOIL (1)","data":{"name":"cur"},"transform":[{"filter":"datum.panel === 1"}],"mark":{"type":"area","color":"black"},"encoding":{"x":{"field":"t","type":"quantitative","scale":{"domain":[0,4]},"axis":{"values":[0,0.5,1,1.5,2,2.5,3,3.5,4],"format":"~g","title":"SECONDS"}},"y":{"field":"hi","type":"quantitative","scale":{"domain":[-1,1]},"axis":{"values":[-1,-0.5,0,0.5,1],"format":"~g","title":"CURRENT (PU)"}},"y2":{"field":"lo"}}},
{"width":234,"height":131,"title":"WET GRASSY SOIL (2)","data":{"name":"cur"},"transform":[{"filter":"datum.panel === 2"}],"mark":{"type":"area","color":"black"},"encoding":{"x":{"field":"t","type":"quantitative","scale":{"domain":[0,4]},"axis":{"values":[0,0.5,1,1.5,2,2.5,3,3.5,4],"format":"~g","title":"SECONDS"}},"y":{"field":"hi","type":"quantitative","scale":{"domain":[-1,1]},"axis":{"values":[-1,-0.5,0,0.5,1],"format":"~g","title":"CURRENT (PU)"}},"y2":{"field":"lo"}}},
{"width":234,"height":131,"title":"WET GRASSY SOIL (3)","data":{"name":"cur"},"transform":[{"filter":"datum.panel === 3"}],"mark":{"type":"area","color":"black"},"encoding":{"x":{"field":"t","type":"quantitative","scale":{"domain":[0,4]},"axis":{"values":[0,0.5,1,1.5,2,2.5,3,3.5,4],"format":"~g","title":"SECONDS"}},"y":{"field":"hi","type":"quantitative","scale":{"domain":[-1,1]},"axis":{"values":[-1,-0.5,0,0.5,1],"format":"~g","title":"CURRENT (PU)"}},"y2":{"field":"lo"}}},
{"width":234,"height":131,"title":"WET GRASSY SOIL (4)","data":{"name":"cur"},"transform":[{"filter":"datum.panel === 4"}],"mark":{"type":"area","color":"black"},"encoding":{"x":{"field":"t","type":"quantitative","scale":{"domain":[0,4]},"axis":{"values":[0,0.5,1,1.5,2,2.5,3,3.5,4],"format":"~g","title":"SECONDS"}},"y":{"field":"hi","type":"quantitative","scale":{"domain":[-1,1]},"axis":{"values":[-1,-0.5,0,0.5,1],"format":"~g","title":"CURRENT (PU)"}},"y2":{"field":"lo"}}}
],"spacing":43},
{"hconcat":[
{"width":234,"height":131,"title":"WET GRASSY SOIL (1)",
"encoding":{"x":{"field":"t","type":"quantitative","scale":{"domain":[0,4]},"axis":{"values":[0,0.5,1,1.5,2,2.5,3,3.5,4],"format":"~g","title":"SECONDS"}},"y":{"field":"v","type":"quantitative","scale":{"domain":[-1,1]},"axis":{"values":[-1,-0.5,0,0.5,1],"format":"~g","title":"OUTPUT"}}},
"layer":[
{"data":{"name":"nn"},"transform":[{"filter":"datum.panel === 1"}],"mark":{"type":"line","color":"black","strokeWidth":1}},
{"data":{"name":"mk"},"transform":[{"filter":"datum.panel === 1 && datum.series === 'DETECTOR'"}],"mark":{"type":"line","color":"black","strokeWidth":1,"strokeDash":[4,3]}},
{"data":{"name":"mk"},"transform":[{"filter":"datum.panel === 1 && datum.series === 'DETECTOR'"}],"mark":{"type":"point","shape":"M-1,0H1M0,-1V1","size":49,"filled":false,"color":"black","strokeWidth":1,"opacity":1}},
{"data":{"name":"mk"},"transform":[{"filter":"datum.panel === 1 && datum.series === 'NEURAL NET'"}],"mark":{"type":"point","shape":"circle","size":20,"filled":true,"fill":"white","stroke":"black","strokeWidth":1,"opacity":1}},
{"data":{"name":"mk"},"transform":[{"filter":"datum.panel === 1"}],"mark":{"type":"point","filled":false,"opacity":0},"encoding":{"shape":{"field":"series","type":"nominal","scale":{"domain":["NEURAL NET","DETECTOR"],"range":["M-1,0H-0.32M0.32,0H1M-0.32,0A0.32,0.32 0 1,0 0.32,0A0.32,0.32 0 1,0 -0.32,0","M-1,0H-0.6M-0.4,0H0.4M0.6,0H1M0,-0.5V0.5"]},"legend":{"title":null,"orient":"bottom-right","offset":3,"strokeColor":"black","fillColor":"white","padding":2,"rowPadding":1,"labelOffset":3,"symbolSize":144,"symbolStrokeColor":"black","symbolStrokeWidth":1,"symbolOpacity":1,"symbolFillColor":"transparent","labelFont":"DejaVu Serif","labelFontSize":17,"labelColor":"black","labelLimit":300}}}}
]},
{"width":234,"height":131,"title":"WET GRASSY SOIL (2)",
"encoding":{"x":{"field":"t","type":"quantitative","scale":{"domain":[0,4]},"axis":{"values":[0,0.5,1,1.5,2,2.5,3,3.5,4],"format":"~g","title":"SECONDS"}},"y":{"field":"v","type":"quantitative","scale":{"domain":[-1,1]},"axis":{"values":[-1,-0.5,0,0.5,1],"format":"~g","title":"OUTPUT"}}},
"layer":[
{"data":{"name":"nn"},"transform":[{"filter":"datum.panel === 2"}],"mark":{"type":"line","color":"black","strokeWidth":1}},
{"data":{"name":"mk"},"transform":[{"filter":"datum.panel === 2 && datum.series === 'DETECTOR'"}],"mark":{"type":"line","color":"black","strokeWidth":1,"strokeDash":[4,3]}},
{"data":{"name":"mk"},"transform":[{"filter":"datum.panel === 2 && datum.series === 'DETECTOR'"}],"mark":{"type":"point","shape":"M-1,0H1M0,-1V1","size":49,"filled":false,"color":"black","strokeWidth":1,"opacity":1}},
{"data":{"name":"mk"},"transform":[{"filter":"datum.panel === 2 && datum.series === 'NEURAL NET'"}],"mark":{"type":"point","shape":"circle","size":20,"filled":true,"fill":"white","stroke":"black","strokeWidth":1,"opacity":1}},
{"data":{"name":"mk"},"transform":[{"filter":"datum.panel === 2"}],"mark":{"type":"point","filled":false,"opacity":0},"encoding":{"shape":{"field":"series","type":"nominal","scale":{"domain":["NEURAL NET","DETECTOR"],"range":["M-1,0H-0.32M0.32,0H1M-0.32,0A0.32,0.32 0 1,0 0.32,0A0.32,0.32 0 1,0 -0.32,0","M-1,0H-0.6M-0.4,0H0.4M0.6,0H1M0,-0.5V0.5"]},"legend":{"title":null,"orient":"bottom-right","offset":3,"strokeColor":"black","fillColor":"white","padding":2,"rowPadding":1,"labelOffset":3,"symbolSize":144,"symbolStrokeColor":"black","symbolStrokeWidth":1,"symbolOpacity":1,"symbolFillColor":"transparent","labelFont":"DejaVu Serif","labelFontSize":17,"labelColor":"black","labelLimit":300}}}}
]},
{"width":234,"height":131,"title":"WET GRASSY SOIL (3)",
"encoding":{"x":{"field":"t","type":"quantitative","scale":{"domain":[0,4]},"axis":{"values":[0,0.5,1,1.5,2,2.5,3,3.5,4],"format":"~g","title":"SECONDS"}},"y":{"field":"v","type":"quantitative","scale":{"domain":[-1,1]},"axis":{"values":[-1,-0.5,0,0.5,1],"format":"~g","title":"OUTPUT"}}},
"layer":[
{"data":{"name":"nn"},"transform":[{"filter":"datum.panel === 3"}],"mark":{"type":"line","color":"black","strokeWidth":1}},
{"data":{"name":"mk"},"transform":[{"filter":"datum.panel === 3 && datum.series === 'DETECTOR'"}],"mark":{"type":"line","color":"black","strokeWidth":1,"strokeDash":[4,3]}},
{"data":{"name":"mk"},"transform":[{"filter":"datum.panel === 3 && datum.series === 'DETECTOR'"}],"mark":{"type":"point","shape":"M-1,0H1M0,-1V1","size":49,"filled":false,"color":"black","strokeWidth":1,"opacity":1}},
{"data":{"name":"mk"},"transform":[{"filter":"datum.panel === 3 && datum.series === 'NEURAL NET'"}],"mark":{"type":"point","shape":"circle","size":20,"filled":true,"fill":"white","stroke":"black","strokeWidth":1,"opacity":1}},
{"data":{"name":"mk"},"transform":[{"filter":"datum.panel === 3"}],"mark":{"type":"point","filled":false,"opacity":0},"encoding":{"shape":{"field":"series","type":"nominal","scale":{"domain":["NEURAL NET","DETECTOR"],"range":["M-1,0H-0.32M0.32,0H1M-0.32,0A0.32,0.32 0 1,0 0.32,0A0.32,0.32 0 1,0 -0.32,0","M-1,0H-0.6M-0.4,0H0.4M0.6,0H1M0,-0.5V0.5"]},"legend":{"title":null,"orient":"bottom-right","offset":3,"strokeColor":"black","fillColor":"white","padding":2,"rowPadding":1,"labelOffset":3,"symbolSize":144,"symbolStrokeColor":"black","symbolStrokeWidth":1,"symbolOpacity":1,"symbolFillColor":"transparent","labelFont":"DejaVu Serif","labelFontSize":17,"labelColor":"black","labelLimit":300}}}}
]},
{"width":234,"height":131,"title":"WET GRASSY SOIL (4)",
"encoding":{"x":{"field":"t","type":"quantitative","scale":{"domain":[0,4]},"axis":{"values":[0,0.5,1,1.5,2,2.5,3,3.5,4],"format":"~g","title":"SECONDS"}},"y":{"field":"v","type":"quantitative","scale":{"domain":[-1,1]},"axis":{"values":[-1,-0.5,0,0.5,1],"format":"~g","title":"OUTPUT"}}},
"layer":[
{"data":{"name":"nn"},"transform":[{"filter":"datum.panel === 4"}],"mark":{"type":"line","color":"black","strokeWidth":1}},
{"data":{"name":"mk"},"transform":[{"filter":"datum.panel === 4 && datum.series === 'DETECTOR'"}],"mark":{"type":"line","color":"black","strokeWidth":1,"strokeDash":[4,3]}},
{"data":{"name":"mk"},"transform":[{"filter":"datum.panel === 4 && datum.series === 'DETECTOR'"}],"mark":{"type":"point","shape":"M-1,0H1M0,-1V1","size":49,"filled":false,"color":"black","strokeWidth":1,"opacity":1}},
{"data":{"name":"mk"},"transform":[{"filter":"datum.panel === 4 && datum.series === 'NEURAL NET'"}],"mark":{"type":"point","shape":"circle","size":20,"filled":true,"fill":"white","stroke":"black","strokeWidth":1,"opacity":1}},
{"data":{"name":"mk"},"transform":[{"filter":"datum.panel === 4"}],"mark":{"type":"point","filled":false,"opacity":0},"encoding":{"shape":{"field":"series","type":"nominal","scale":{"domain":["NEURAL NET","DETECTOR"],"range":["M-1,0H-0.32M0.32,0H1M-0.32,0A0.32,0.32 0 1,0 0.32,0A0.32,0.32 0 1,0 -0.32,0","M-1,0H-0.6M-0.4,0H0.4M0.6,0H1M0,-0.5V0.5"]},"legend":{"title":null,"orient":"bottom-right","offset":3,"strokeColor":"black","fillColor":"white","padding":2,"rowPadding":1,"labelOffset":3,"symbolSize":144,"symbolStrokeColor":"black","symbolStrokeWidth":1,"symbolOpacity":1,"symbolFillColor":"transparent","labelFont":"DejaVu Serif","labelFontSize":17,"labelColor":"black","labelLimit":300}}}}
]}
],"spacing":43,"resolve":{"scale":{"shape":"independent"},"legend":{"shape":"independent"}}}
]
}
